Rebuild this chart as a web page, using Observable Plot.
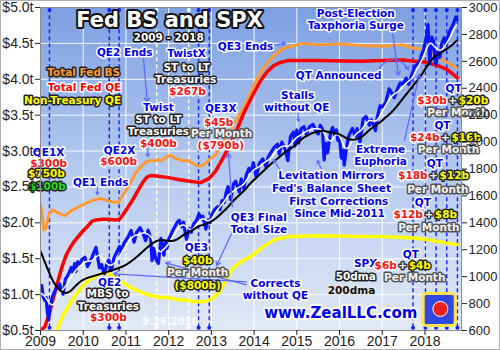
<!DOCTYPE html>
<html><head><meta charset="utf-8">
<script src="https://cdn.jsdelivr.net/npm/d3@7"></script>
<script src="https://cdn.jsdelivr.net/npm/@observablehq/plot@0.6"></script>
<style>body{margin:0;background:#fff}#chart svg{display:block}</style>
</head><body><div id="chart"></div>
<script>
// ---------- DATA (decimal year, value) ----------
const years = d3.range(2009, 2019);
const leftTicks = [0.5,1.0,1.5,2.0,2.5,3.0,3.5,4.0,4.5,5.0];
const rightTicks = [600,800,1000,1200,1400,1600,1800,2000,2200,2400,2600,2800,3000];

const fedBS = [[2009.00,2.26],[2009.04,2.10],[2009.08,1.90],[2009.12,1.92],[2009.20,2.12],[2009.28,2.18],[2009.38,2.15],[2009.47,2.12],[2009.58,2.10],[2009.70,2.16],[2009.82,2.20],[2009.95,2.24],[2010.10,2.28],[2010.25,2.32],[2010.40,2.34],[2010.55,2.31],[2010.70,2.29],[2010.82,2.28],[2010.90,2.36],[2011.00,2.45],[2011.10,2.55],[2011.22,2.69],[2011.35,2.78],[2011.45,2.84],[2011.55,2.87],[2011.65,2.86],[2011.75,2.88],[2011.85,2.87],[2011.95,2.92],[2012.05,2.94],[2012.15,2.90],[2012.25,2.88],[2012.35,2.86],[2012.45,2.87],[2012.55,2.83],[2012.65,2.80],[2012.75,2.79],[2012.85,2.82],[2012.95,2.88],[2013.10,2.95],[2013.25,3.10],[2013.38,3.24],[2013.50,3.36],[2013.64,3.49],[2013.75,3.60],[2013.85,3.72],[2014.00,3.92],[2014.15,4.09],[2014.30,4.22],[2014.46,4.33],[2014.60,4.40],[2014.69,4.43],[2014.85,4.46],[2015.16,4.50],[2015.50,4.48],[2016.00,4.49],[2016.50,4.47],[2017.00,4.46],[2017.50,4.48],[2017.67,4.44],[2017.95,4.42],[2018.15,4.38],[2018.37,4.29],[2018.55,4.22],[2018.74,4.16]];

const fedQE = [[2009.00,0.50],[2009.10,0.55],[2009.20,0.72],[2009.30,0.95],[2009.40,1.17],[2009.50,1.38],[2009.60,1.55],[2009.70,1.66],[2009.80,1.75],[2009.90,1.82],[2010.00,1.89],[2010.10,1.95],[2010.20,2.02],[2010.30,2.04],[2010.45,2.05],[2010.60,2.05],[2010.75,2.04],[2010.85,2.05],[2010.95,2.13],[2011.05,2.22],[2011.15,2.31],[2011.28,2.45],[2011.40,2.57],[2011.50,2.64],[2011.60,2.66],[2011.75,2.65],[2012.00,2.63],[2012.25,2.60],[2012.50,2.58],[2012.75,2.56],[2012.95,2.62],[2013.10,2.72],[2013.25,2.88],[2013.45,3.10],[2013.60,3.30],[2013.75,3.52],[2013.96,3.77],[2014.15,3.98],[2014.30,4.10],[2014.46,4.19],[2014.60,4.23],[2014.78,4.26],[2015.50,4.26],[2016.50,4.25],[2017.00,4.26],[2017.50,4.27],[2017.75,4.25],[2018.00,4.24],[2018.30,4.19],[2018.50,4.14],[2018.62,4.09],[2018.76,4.02]];

const nonTreasuryQE = [[2009.30,0.40],[2009.38,0.52],[2009.55,0.74],[2009.80,0.98],[2010.00,1.13],[2010.20,1.23],[2010.40,1.29],[2010.55,1.30],[2010.70,1.26],[2010.90,1.18],[2011.10,1.10],[2011.30,1.05],[2011.50,1.00],[2011.80,0.96],[2012.00,0.96],[2012.20,0.93],[2012.45,0.92],[2012.60,0.90],[2012.75,0.90],[2012.90,0.91],[2013.05,0.96],[2013.20,1.05],[2013.35,1.22],[2013.50,1.37],[2013.70,1.46],[2013.92,1.53],[2014.22,1.67],[2014.50,1.77],[2014.85,1.81],[2015.50,1.82],[2016.50,1.81],[2017.00,1.81],[2017.75,1.79],[2018.00,1.77],[2018.30,1.74],[2018.50,1.72],[2018.76,1.70]];

const spx = [[2009.00,903],[2009.03,934],[2009.06,850],[2009.10,825],[2009.13,845],[2009.16,740],[2009.19,677],[2009.22,768],[2009.25,815],[2009.30,870],[2009.35,900],[2009.40,930],[2009.45,946],[2009.50,880],[2009.53,870],[2009.58,980],[2009.63,1005],[2009.67,1030],[2009.72,1068],[2009.76,1030],[2009.80,1097],[2009.83,1040],[2009.87,1110],[2009.92,1095],[2009.97,1128],[2010.04,1145],[2010.10,1075],[2010.14,1100],[2010.20,1140],[2010.25,1180],[2010.30,1217],[2010.35,1120],[2010.38,1065],[2010.43,1090],[2010.47,1040],[2010.50,1022],[2010.55,1095],[2010.60,1125],[2010.63,1065],[2010.66,1047],[2010.72,1140],[2010.78,1180],[2010.85,1225],[2010.88,1180],[2010.95,1245],[2011.05,1295],[2011.12,1343],[2011.19,1256],[2011.25,1330],[2011.33,1363],[2011.40,1320],[2011.46,1268],[2011.52,1345],[2011.58,1280],[2011.61,1119],[2011.65,1210],[2011.70,1130],[2011.76,1099],[2011.82,1285],[2011.85,1218],[2011.89,1160],[2011.92,1261],[2011.96,1210],[2012.00,1277],[2012.10,1345],[2012.20,1405],[2012.25,1419],[2012.30,1370],[2012.35,1405],[2012.40,1300],[2012.42,1278],[2012.48,1360],[2012.53,1330],[2012.58,1390],[2012.65,1418],[2012.71,1466],[2012.77,1430],[2012.80,1450],[2012.87,1353],[2012.92,1420],[2012.97,1402],[2013.01,1460],[2013.08,1500],[2013.15,1520],[2013.20,1498],[2013.25,1565],[2013.30,1552],[2013.35,1630],[2013.39,1669],[2013.45,1573],[2013.52,1690],[2013.57,1709],[2013.65,1630],[2013.70,1725],[2013.76,1655],[2013.82,1760],[2013.88,1805],[2013.93,1775],[2013.98,1848],[2014.05,1740],[2014.12,1840],[2014.20,1875],[2014.28,1815],[2014.33,1890],[2014.40,1925],[2014.47,1960],[2014.55,1985],[2014.59,1910],[2014.65,2000],[2014.72,1950],[2014.79,1862],[2014.85,2040],[2014.92,2075],[2014.96,1972],[2015.00,2090],[2015.04,1992],[2015.10,2100],[2015.17,2115],[2015.22,2060],[2015.30,2115],[2015.38,2131],[2015.45,2080],[2015.50,2060],[2015.55,2125],[2015.60,2095],[2015.64,1868],[2015.68,1990],[2015.72,1920],[2015.79,2070],[2015.84,2109],[2015.89,2050],[2015.93,2090],[2015.96,2012],[2016.00,2040],[2016.04,1880],[2016.08,1940],[2016.11,1829],[2016.17,1975],[2016.22,2050],[2016.30,2102],[2016.37,2040],[2016.41,2100],[2016.48,2000],[2016.52,2100],[2016.55,2170],[2016.62,2190],[2016.70,2125],[2016.74,2165],[2016.80,2130],[2016.84,2085],[2016.88,2180],[2016.95,2270],[2017.00,2260],[2017.08,2295],[2017.16,2396],[2017.22,2365],[2017.28,2329],[2017.35,2390],[2017.42,2440],[2017.48,2430],[2017.56,2475],[2017.62,2428],[2017.69,2500],[2017.76,2560],[2017.82,2580],[2017.88,2600],[2017.92,2650],[2017.97,2690],[2018.03,2780],[2018.07,2873],[2018.10,2650],[2018.11,2581],[2018.16,2780],[2018.20,2750],[2018.24,2590],[2018.26,2580],[2018.31,2670],[2018.35,2630],[2018.39,2730],[2018.45,2775],[2018.50,2720],[2018.55,2800],[2018.60,2840],[2018.64,2860],[2018.69,2900],[2018.72,2930],[2018.75,2906]];

const spx50dma = [[2009.0,880],[2009.1,860],[2009.2,800],[2009.3,780],[2009.4,840],[2009.5,900],[2009.6,930],[2009.7,990],[2009.8,1040],[2009.9,1070],[2010.0,1100],[2010.1,1120],[2010.2,1110],[2010.3,1150],[2010.4,1170],[2010.5,1110],[2010.6,1080],[2010.7,1090],[2010.8,1120],[2010.9,1180],[2011.0,1230],[2011.1,1280],[2011.2,1310],[2011.3,1310],[2011.4,1330],[2011.5,1320],[2011.6,1300],[2011.7,1220],[2011.8,1170],[2011.9,1210],[2012.0,1240],[2012.1,1300],[2012.2,1350],[2012.3,1390],[2012.4,1380],[2012.5,1340],[2012.6,1360],[2012.7,1410],[2012.8,1440],[2012.9,1410],[2013.0,1420],[2013.1,1480],[2013.2,1520],[2013.3,1555],[2013.4,1610],[2013.5,1630],[2013.6,1660],[2013.7,1670],[2013.8,1700],[2013.9,1760],[2014.0,1800],[2014.1,1810],[2014.2,1840],[2014.3,1860],[2014.4,1880],[2014.5,1930],[2014.6,1960],[2014.7,1975],[2014.8,1960],[2014.9,2000],[2015.0,2040],[2015.1,2050],[2015.2,2080],[2015.3,2090],[2015.4,2100],[2015.5,2100],[2015.6,2090],[2015.7,2030],[2015.8,1990],[2015.9,2060],[2016.0,2060],[2016.1,1960],[2016.2,1940],[2016.3,2020],[2016.4,2070],[2016.5,2080],[2016.6,2130],[2016.7,2170],[2016.8,2150],[2016.9,2160],[2017.0,2230],[2017.1,2280],[2017.2,2340],[2017.3,2360],[2017.4,2380],[2017.5,2420],[2017.6,2450],[2017.7,2470],[2017.8,2540],[2017.9,2590],[2018.0,2660],[2018.1,2750],[2018.2,2720],[2018.3,2680],[2018.4,2680],[2018.5,2730],[2018.6,2780],[2018.7,2860],[2018.75,2870]];

const spx200dma = [[2009.0,1190],[2009.1,1110],[2009.2,1030],[2009.3,960],[2009.4,915],[2009.5,885],[2009.6,875],[2009.7,890],[2009.8,925],[2009.9,955],[2010.0,980],[2010.2,1000],[2010.4,1020],[2010.6,1040],[2010.8,1060],[2011.0,1085],[2011.2,1130],[2011.4,1190],[2011.6,1245],[2011.75,1275],[2011.9,1270],[2012.0,1265],[2012.1,1265],[2012.2,1275],[2012.3,1300],[2012.4,1320],[2012.5,1335],[2012.6,1355],[2012.7,1375],[2012.8,1385],[2012.9,1395],[2013.0,1410],[2013.1,1430],[2013.2,1460],[2013.3,1490],[2013.4,1520],[2013.5,1560],[2013.6,1590],[2013.7,1620],[2013.8,1650],[2013.9,1690],[2014.0,1720],[2014.1,1750],[2014.2,1780],[2014.3,1810],[2014.4,1840],[2014.5,1865],[2014.6,1890],[2014.7,1920],[2014.8,1940],[2014.9,1960],[2015.0,1990],[2015.1,2020],[2015.2,2040],[2015.3,2060],[2015.4,2070],[2015.5,2080],[2015.6,2085],[2015.7,2080],[2015.8,2070],[2015.9,2065],[2016.0,2060],[2016.1,2040],[2016.2,2020],[2016.3,2015],[2016.4,2020],[2016.5,2035],[2016.6,2060],[2016.7,2090],[2016.8,2115],[2016.9,2135],[2017.0,2160],[2017.1,2190],[2017.2,2215],[2017.3,2250],[2017.4,2290],[2017.5,2330],[2017.6,2370],[2017.7,2410],[2017.8,2450],[2017.9,2490],[2018.0,2540],[2018.1,2590],[2018.2,2630],[2018.3,2650],[2018.4,2670],[2018.5,2690],[2018.6,2710],[2018.7,2740],[2018.75,2755]];

// event dates (decimal years)
const qeEvents = [2009.21, 2010.61, 2010.84, 2012.70, 2012.95];
const qtEvents = [2017.72, 2018.01, 2018.26, 2018.51, 2018.76];
const twistEvents = [2011.72, 2012.47];

// ---------- ANNOTATIONS (x in years, y in $t) ----------
const blueNotes = [[2010.97,4.378,"QE2 Ends"],[2012.42,4.364,"TwistX"],[2013.80,4.448,"QE3 Ends"],[2015.98,4.056,"QT Announced"],[2015.02,3.777,"Stalls"],[2015.00,3.609,"without QE"],[2016.38,4.909,"Post-Election"],[2016.38,4.741,"Taxphoria Surge"],[2013.22,3.595,"QE3X"],[2014.11,2.072,"QE3 Final"],[2014.11,1.904,"Total Size"],[2015.81,2.659,"Levitation Mirrors"],[2015.81,2.477,"Fed's Balance Sheet"],[2015.98,2.296,"First Corrections"],[2016.00,2.128,"Since Mid-2011"],[2016.96,3.022,"Extreme"],[2016.96,2.855,"Euphoria"],[2011.76,3.609,"Twist"],[2009.19,2.980,"QE1X"],[2010.85,3.008,"QE2X"],[2010.41,2.561,"QE1 Ends"],[2010.62,1.164,"QE2"],[2014.50,1.150,"Corrects"],[2014.50,0.982,"without QE"],[2012.65,1.653,"QE3"],[2016.61,1.429,"SPX"],[2018.67,3.875,"QT"],[2018.41,3.358,"QT"],[2018.23,2.827,"QT"],[2017.95,2.282,"QT"],[2017.67,1.555,"QT"]];
const whiteNotes = [[2012.42,4.168,"ST to LT"],[2012.40,4.000,"Treasuries"],[2011.76,3.442,"ST to LT"],[2011.76,3.274,"Treasuries"],[2010.57,1.010,"MBS to"],[2010.59,0.828,"Treasuries"],[2016.38,1.248,"50dma"]];
const perMonthNotes = [[2013.24,3.246],[2012.68,1.304],[2018.77,3.539],[2018.55,3.022],[2018.30,2.463],[2018.09,1.932],[2017.76,1.234]];
const redNotes = [[2012.44,3.833,"$267b"],[2013.17,3.400,"$45b"],[2013.22,3.078,"($790b)"],[2011.76,3.106,"$400b"],[2009.19,2.827,"$300b"],[2010.83,2.855,"$600b"],[2010.59,0.675,"$300b"]];
const yellowNotes = [[2009.14,2.687,"$750b"],[2012.68,1.471,"$40b"],[2012.68,1.122,"($800b)"]];
const greenNotes = [[2009.16,2.505,"$100b"]];
const qtRows = [[2018.65,3.707,"$30b","$20b"],[2018.48,3.190,"$24b","$16b"],[2018.20,2.659,"$18b","$12b"],[2018.09,2.114,"$12b","$8b"],[2017.48,1.401,"$6b","$4b"]];
const arrows = [[2011.41,4.294,2011.50,3.679],[2010.33,2.505,2010.33,2.394],[2011.51,3.036,2011.51,2.924],[2014.48,4.476,2014.74,4.504],[2015.02,3.526,2015.04,3.414],[2013.49,2.226,2013.40,2.967],[2013.59,2.002,2013.12,1.401],[2013.82,1.178,2010.71,1.290],[2013.82,1.136,2011.93,1.443],[2014.60,2.743,2014.45,2.883],[2015.58,2.743,2015.48,2.869],[2017.52,3.148,2017.87,4.07],[2017.24,4.657,2017.38,4.056]];

// ---------- helpers ----------
const toL = s => 0.5 + (s - 600) * 4.5 / 2400;
const fromL = v => Math.round(600 + (v - 0.5) * 2400 / 4.5);
const pts = a => a.map(([x, y]) => ({x, y}));
const spxPts = a => a.map(([x, y]) => ({x, y: toL(y)}));
const F = {fontFamily: "DejaVu Sans, Verdana, sans-serif", fontWeight: "bold", fontSize: 10.5, strokeWidth: 3, strokeLinejoin: "round"};
const note = (arr, fill, stroke, extra = {}) =>
  Plot.text(arr, {x: d => d[0], y: d => d[1], text: d => d[2], fill, stroke, ...F, ...extra});
const yTop = 4.965, yBot = 0.539;
const ends = xs => xs.flatMap(x => [{x, y: yTop}, {x, y: yBot}]);

const chart = Plot.plot({
  width: 500, height: 350,
  marginLeft: 40, marginRight: 39, marginTop: 7, marginBottom: 20,
  x: {domain: [2009, 2018.855], axis: null},
  y: {domain: [0.5, 5.0], axis: null},
  style: {fontFamily: "'Liberation Sans', Arial, sans-serif", background: "#ffffff", overflow: "visible"},
  marks: [
    Plot.frame({fill: "url(#bgGrad)"}),
    Plot.gridX({ticks: years, stroke: "#ffffff", strokeOpacity: 0.9, strokeWidth: 1}),
    Plot.gridY({ticks: leftTicks, stroke: "#ffffff", strokeOpacity: 0.9, strokeWidth: 1}),
    Plot.ruleX(qeEvents.concat(qtEvents), {y1: yBot, y2: yTop, stroke: "#1020ff", strokeWidth: 1.4, strokeDasharray: "4,3"}),
    Plot.ruleX(twistEvents, {y1: yBot, y2: yTop, stroke: "#ffffff", strokeWidth: 1.4, strokeDasharray: "4,3"}),
    Plot.line(pts(fedBS), {x: "x", y: "y", stroke: "#ff9a33", strokeWidth: 3, clip: true}),
    Plot.line(pts(fedQE), {x: "x", y: "y", stroke: "#ff0000", strokeWidth: 3.5, clip: true}),
    Plot.line(pts(nonTreasuryQE), {x: "x", y: "y", stroke: "#ffff00", strokeWidth: 3.5, clip: true}),
    Plot.line(spxPts(spx), {x: "x", y: "y", stroke: "#0a14ff", strokeWidth: 3.2, clip: true}),
    Plot.line(spxPts(spx50dma), {x: "x", y: "y", stroke: "#ffffff", strokeWidth: 1.5, clip: true, curve: "basis"}),
    Plot.line(spxPts(spx200dma), {x: "x", y: "y", stroke: "#000000", strokeWidth: 2, clip: true, curve: "basis"}),
    Plot.dot(ends(qeEvents.concat(qtEvents)), {x: "x", y: "y", r: 2, fill: "#1020ff"}),
    Plot.dot(ends(twistEvents), {x: "x", y: "y", r: 2, fill: "#ffffff"}),
    Plot.arrow(arrows, {x1: d => d[0], y1: d => d[1], x2: d => d[2], y2: d => d[3], stroke: "#5a68ff", strokeWidth: 1.2, headLength: 6}),
    Plot.arrow([[2016.91, 4.126, 2017.61, 4.126]], {x1: d => d[0], y1: d => d[1], x2: d => d[2], y2: d => d[3], bend: 70, stroke: "#5a68ff", strokeWidth: 1.2, headLength: 6}),
    // title block
    Plot.text(["Fed BS and SPX"], {x: 2012.02, y: 4.825, text: d => d, fill: "#ffffff", stroke: "#111", ...F, fontSize: 21, strokeWidth: 4}),
    Plot.text(["2009 - 2018"], {x: 2012.0, y: 4.587, text: d => d, fill: "#ffffff", stroke: "#111", ...F}),
    Plot.text(["Total Fed BS"], {x: 2010.01, y: 4.098, text: d => d, fill: "#ff9a33", stroke: "#222", ...F}),
    Plot.text(["Total Fed QE"], {x: 2010.03, y: 3.889, text: d => d, fill: "#ff0000", stroke: "#ffffff", ...F}),
    Plot.text(["Non-Treasury QE"], {x: 2009.75, y: 3.707, text: d => d, fill: "#ffff00", stroke: "#222", ...F}),
    note(blueNotes, "#0000f0", "#ffffff"),
    note(whiteNotes, "#ffffff", "#222"),
    Plot.text(perMonthNotes, {x: d => d[0], y: d => d[1], text: () => "Per Month", fill: "#f2f2f2", stroke: "#555", ...F}),
    note(redNotes, "#ff1010", "#ffffff"),
    note(yellowNotes, "#ffff00", "#222"),
    note(greenNotes, "#22dd22", "#222"),
    Plot.text(qtRows, {x: d => d[0], y: d => d[1], text: d => d[2], fill: "#ff1010", stroke: "#ffffff", textAnchor: "end", dx: -6, ...F}),
    Plot.text(qtRows, {x: d => d[0], y: d => d[1], text: () => "+", fill: "#ffffff", stroke: "#333", ...F}),
    Plot.text(qtRows, {x: d => d[0], y: d => d[1], text: d => d[3], fill: "#ffff00", stroke: "#222", textAnchor: "start", dx: 6, ...F}),
    Plot.text(["200dma"], {x: 2016.28, y: 1.052, text: d => d, fill: "#111", stroke: "#e6e6e6", ...F}),
    Plot.text(["www.ZealLLC.com"], {x: 2016.03, y: 0.745, text: d => d, fill: "#0000ee", stroke: "#ffffff", ...F, fontSize: 15, strokeWidth: 3.5}),
    Plot.text(["9.26.2018"], {x: 2012.04, y: 0.619, text: d => d, fill: "#ffffff", fillOpacity: 0.85, fontFamily: "DejaVu Sans, sans-serif", fontWeight: "bold", fontSize: 10}),
    // logo
    Plot.rect([0], {x1: 2017.97, x2: 2018.72, y1: 0.563, y2: 1.01, fill: "#3148e0", stroke: "#ffe24a", strokeWidth: 3, rx: 3}),
    Plot.dot([0], {x: 2018.36, y: 0.80, r: 7.5, fill: "#ee2020", stroke: "#ffffff", strokeWidth: 1}),
    Plot.frame({stroke: "#8c8c8c"}),
    // axes
    Plot.axisY({ticks: leftTicks, anchor: "left", label: null, tickFormat: d => "$" + d.toFixed(1) + "t", fontSize: 14, tickSize: 5, tickPadding: 2, color: "#222"}),
    Plot.axisY({ticks: rightTicks.map(toL), anchor: "right", label: null, tickFormat: d => String(fromL(d)), fontSize: 13, tickSize: 5, tickPadding: 2, color: "#222"}),
    Plot.axisX({ticks: years, anchor: "bottom", label: null, tickFormat: d => String(d), fontSize: 14, tickSize: 5, tickPadding: 1, color: "#222"})
  ]
});

// background gradient
const svg = d3.select(chart);
const grad = svg.insert("defs", ":first-child").append("linearGradient")
  .attr("id", "bgGrad").attr("x1", 0).attr("y1", 0).attr("x2", 0).attr("y2", 1);
grad.append("stop").attr("offset", "0%").attr("stop-color", "#7d9fe2");
grad.append("stop").attr("offset", "50%").attr("stop-color", "#b4c9ef");
grad.append("stop").attr("offset", "100%").attr("stop-color", "#e2e9f7");
svg.selectAll("text").attr("paint-order", "stroke").attr("stroke-linejoin", "round");
svg.style("outline", "1px solid #b0b0b0").style("outline-offset", "-1px");
document.getElementById("chart").append(chart);
</script></body></html>
